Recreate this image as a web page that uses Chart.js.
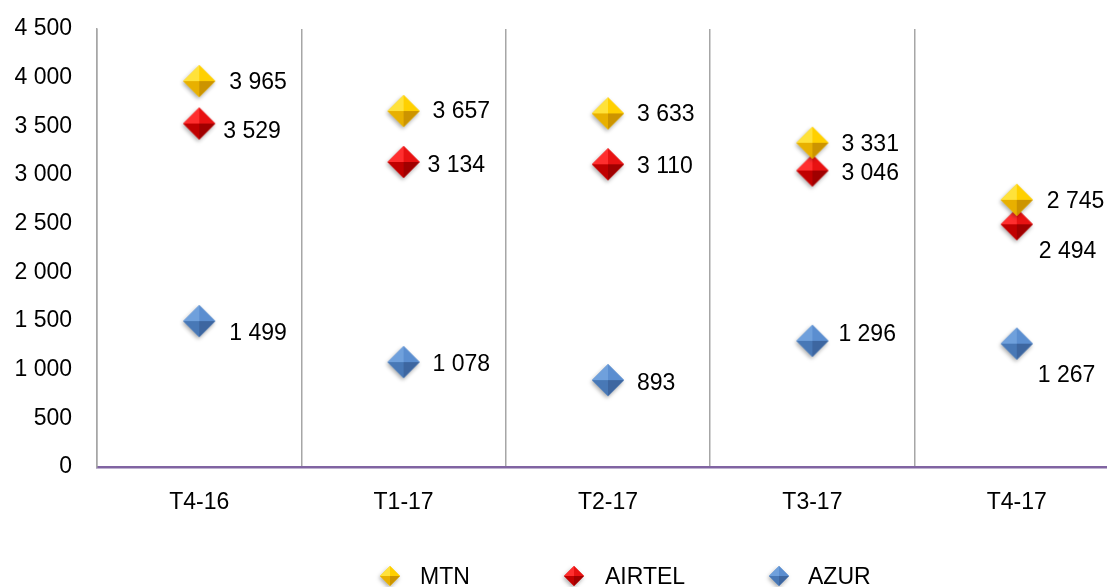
<!DOCTYPE html>
<html>
<head>
<meta charset="utf-8">
<script src="https://cdn.jsdelivr.net/npm/chart.js@4.4.1/dist/chart.umd.min.js"></script>
<style>
  html, body { margin: 0; padding: 0; background: #fff; overflow: hidden; }
  #wrap { width: 1136px; height: 600px; position: relative; }
</style>
</head>
<body>
<div id="wrap"><canvas id="c" width="1136" height="600"></canvas></div>
<script>
// ---- data ----
const categories = ['T4-16', 'T1-17', 'T2-17', 'T3-17', 'T4-17'];
const mtnValues    = [3965, 3657, 3633, 3331, 2745];
const airtelValues = [3529, 3134, 3110, 3046, 2494];
const azurValues   = [1499, 1078, 893, 1296, 1267];
const seriesNames  = ['MTN', 'AIRTEL', 'AZUR'];
const yTicks = [0, 500, 1000, 1500, 2000, 2500, 3000, 3500, 4000, 4500];

// ---- styling / layout (not data) ----
const FONT = '"Liberation Sans", Arial, sans-serif';
const FS = 23;
const facetColors = {
  MTN:    ['#FFE23A', '#FFD000', '#E8B000', '#CC9400'],
  AIRTEL: ['#FF2E2E', '#E81212', '#C00000', '#A00000'],
  AZUR:   ['#6FA0DC', '#5B8ED0', '#4878B6', '#3D66A0']
};
// label offsets from marker centre: [dx to text left, dy to text middle]
const labelOffsets = {
  MTN:    [[30,2],[29,1],[29,1],[29,2],[30,2]],
  AIRTEL: [[24,8],[24,4],[29,2],[29,3],[22,27]],
  AZUR:   [[30,13],[29,3],[29,4],[26,-6],[21,32]]
};

function fmt(v) { return String(v).replace(/\B(?=(\d{3})+(?!\d))/g, ' '); }

function makeDiamond(name, r) {
  const pad = 6;
  const size = Math.ceil(2 * r + 2 * pad);
  const cv = document.createElement('canvas');
  cv.width = size; cv.height = size;
  const g = cv.getContext('2d');
  const c = size / 2;
  const cols = facetColors[name];
  g.save();
  g.shadowColor = 'rgba(0,0,0,0.35)';
  g.shadowBlur = 4;
  g.shadowOffsetX = -1;
  g.shadowOffsetY = 2;
  g.beginPath();
  g.moveTo(c, c - r); g.lineTo(c + r, c); g.lineTo(c, c + r); g.lineTo(c - r, c); g.closePath();
  g.fillStyle = cols[1];
  g.fill();
  g.restore();
  const T = [c, c - r], R = [c + r, c], B = [c, c + r], L = [c - r, c], C = [c, c];
  const tri = (a, b, col) => {
    g.beginPath(); g.moveTo(a[0], a[1]); g.lineTo(b[0], b[1]); g.lineTo(C[0], C[1]); g.closePath();
    g.fillStyle = col; g.fill();
  };
  tri(T, L, cols[0]);
  tri(T, R, cols[1]);
  tri(L, B, cols[2]);
  tri(B, R, cols[3]);
  return cv;
}

const dataLabelPlugin = {
  id: 'dataLabels',
  afterDatasetsDraw(chart) {
    const ctx = chart.ctx;
    ctx.save();
    ctx.font = FS + 'px ' + FONT;
    ctx.textBaseline = 'middle';
    ctx.textAlign = 'left';
    chart.data.datasets.forEach((ds, di) => {
      const meta = chart.getDatasetMeta(di);
      meta.data.forEach((pt, i) => {
        const off = labelOffsets[ds.label][i];
        ctx.fillStyle = '#000';
        ctx.fillText(fmt(ds.data[i]), pt.x + off[0], pt.y + off[1]);
      });
    });
    ctx.restore();
  }
};

const legendImgs = {};
const legendPlugin = {
  id: 'customLegend',
  afterDraw(chart) {
    const ctx = chart.ctx;
    const items = [
      { name: 'MTN', mx: 390, tx: 420 },
      { name: 'AIRTEL', mx: 574, tx: 605 },
      { name: 'AZUR', mx: 779, tx: 808 }
    ];
    const y = 576;
    ctx.save();
    ctx.font = FS + 'px ' + FONT;
    ctx.textBaseline = 'middle';
    ctx.textAlign = 'left';
    ctx.fillStyle = '#000';
    items.forEach(it => {
      const img = legendImgs[it.name] || (legendImgs[it.name] = makeDiamond(it.name, 10));
      ctx.drawImage(img, it.mx - img.width / 2, y - img.height / 2);
      ctx.fillText(it.name, it.tx, y + 2);
    });
    ctx.restore();
  }
};

const seriesValues = [mtnValues, airtelValues, azurValues];
const datasets = seriesNames.map((name, k) => ({
  label: name,
  data: seriesValues[k],
  showLine: false,
  pointStyle: makeDiamond(name, 16),
  pointRadius: 16,
  pointHoverRadius: 16,
  backgroundColor: facetColors[name][1],
  borderColor: facetColors[name][1]
}));

new Chart(document.getElementById('c'), {
  type: 'line',
  data: { labels: categories, datasets },
  options: {
    responsive: false,
    animation: false,
    events: [],
    layout: { padding: { top: 29, right: 0, left: 0, bottom: 0 } },
    plugins: { legend: { display: false }, tooltip: { enabled: false } },
    scales: {
      x: {
        type: 'category',
        offset: true,
        grid: {
          display: true,
          offset: true,
          color: '#A6A6A6',
          lineWidth: 1.5,
          drawTicks: false
        },
        border: { display: true, color: '#8064A2', width: 2.5 },
        ticks: {
          color: '#000',
          font: { family: FONT, size: FS },
          padding: 22,
          maxRotation: 0,
          autoSkip: false
        },
        afterFit(scale) { scale.height = 133; scale.paddingLeft = 0; scale.paddingRight = 0; }
      },
      y: {
        min: 0,
        max: 4500,
        afterBuildTicks(scale) { scale.ticks = yTicks.map(v => ({ value: v })); },
        grid: { display: false, drawTicks: false },
        border: { display: true, color: '#A6A6A6', width: 1.5 },
        ticks: {
          color: '#000',
          font: { family: FONT, size: FS },
          padding: 25,
          callback: v => fmt(v)
        },
        afterFit(scale) { scale.width = 97; scale.paddingTop = 0; scale.paddingBottom = 0; }
      }
    }
  },
  plugins: [dataLabelPlugin, legendPlugin]
});
</script>
</body>
</html>
